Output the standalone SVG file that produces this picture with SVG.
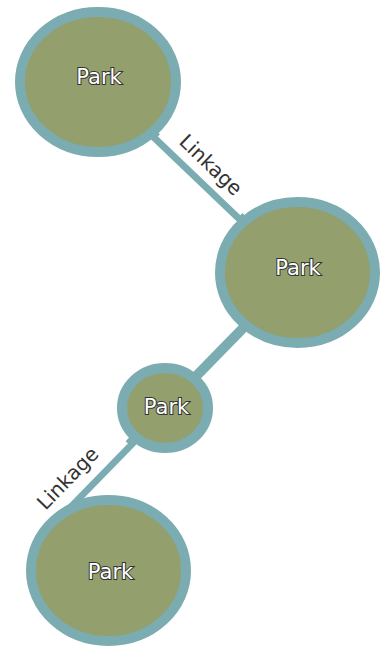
<svg xmlns="http://www.w3.org/2000/svg" width="388" height="646" viewBox="0 0 388 646">
  <style>
    .edge { stroke: #7aacb1; stroke-width: 10; fill: none; }
    .label-bg { fill: #ffffff; }
    .label { font-family: "DejaVu Sans", sans-serif; font-size: 20px; fill: #333333; text-anchor: middle; }
    .node ellipse { fill: #939f6c; stroke: #7aacb1; stroke-width: 10; }
    .node text { font-family: "DejaVu Sans", sans-serif; font-size: 21px; fill: #ffffff; stroke: #333333; stroke-width: 2; paint-order: stroke; text-anchor: middle; }
  </style>

  <!-- connectors with their labels -->
  <g id="edges">
    <line class="edge" x1="98" y1="82" x2="297.5" y2="272.5"/>
    <line class="edge" x1="297.5" y1="272.5" x2="165" y2="408"/>
    <line class="edge" x1="165" y1="408" x2="42" y2="534"/>

    <g transform="translate(197.75,177.25) rotate(43.68)">
      <rect class="label-bg" x="-57" y="-32" width="114" height="30"/>
      <text class="label" x="1" y="-11">Linkage</text>
    </g>
    <g transform="translate(84,491.4) rotate(-45.7)">
      <rect class="label-bg" x="-68" y="-34" width="133" height="32"/>
      <text class="label" x="-2" y="-14">Linkage</text>
    </g>
  </g>

  <g id="node-park-1" class="node">
    <ellipse cx="98" cy="82" rx="78" ry="70"/>
    <text x="99" y="84">Park</text>
  </g>
  <g id="node-park-2" class="node">
    <ellipse cx="297.5" cy="272.5" rx="77.5" ry="70.5"/>
    <text x="298" y="275">Park</text>
  </g>
  <g id="node-park-3" class="node">
    <ellipse cx="165" cy="408" rx="43" ry="40"/>
    <text x="166.5" y="414">Park</text>
  </g>
  <g id="node-park-4" class="node">
    <ellipse cx="108.5" cy="570.5" rx="77.5" ry="70.5"/>
    <text x="110.5" y="579">Park</text>
  </g>
</svg>
